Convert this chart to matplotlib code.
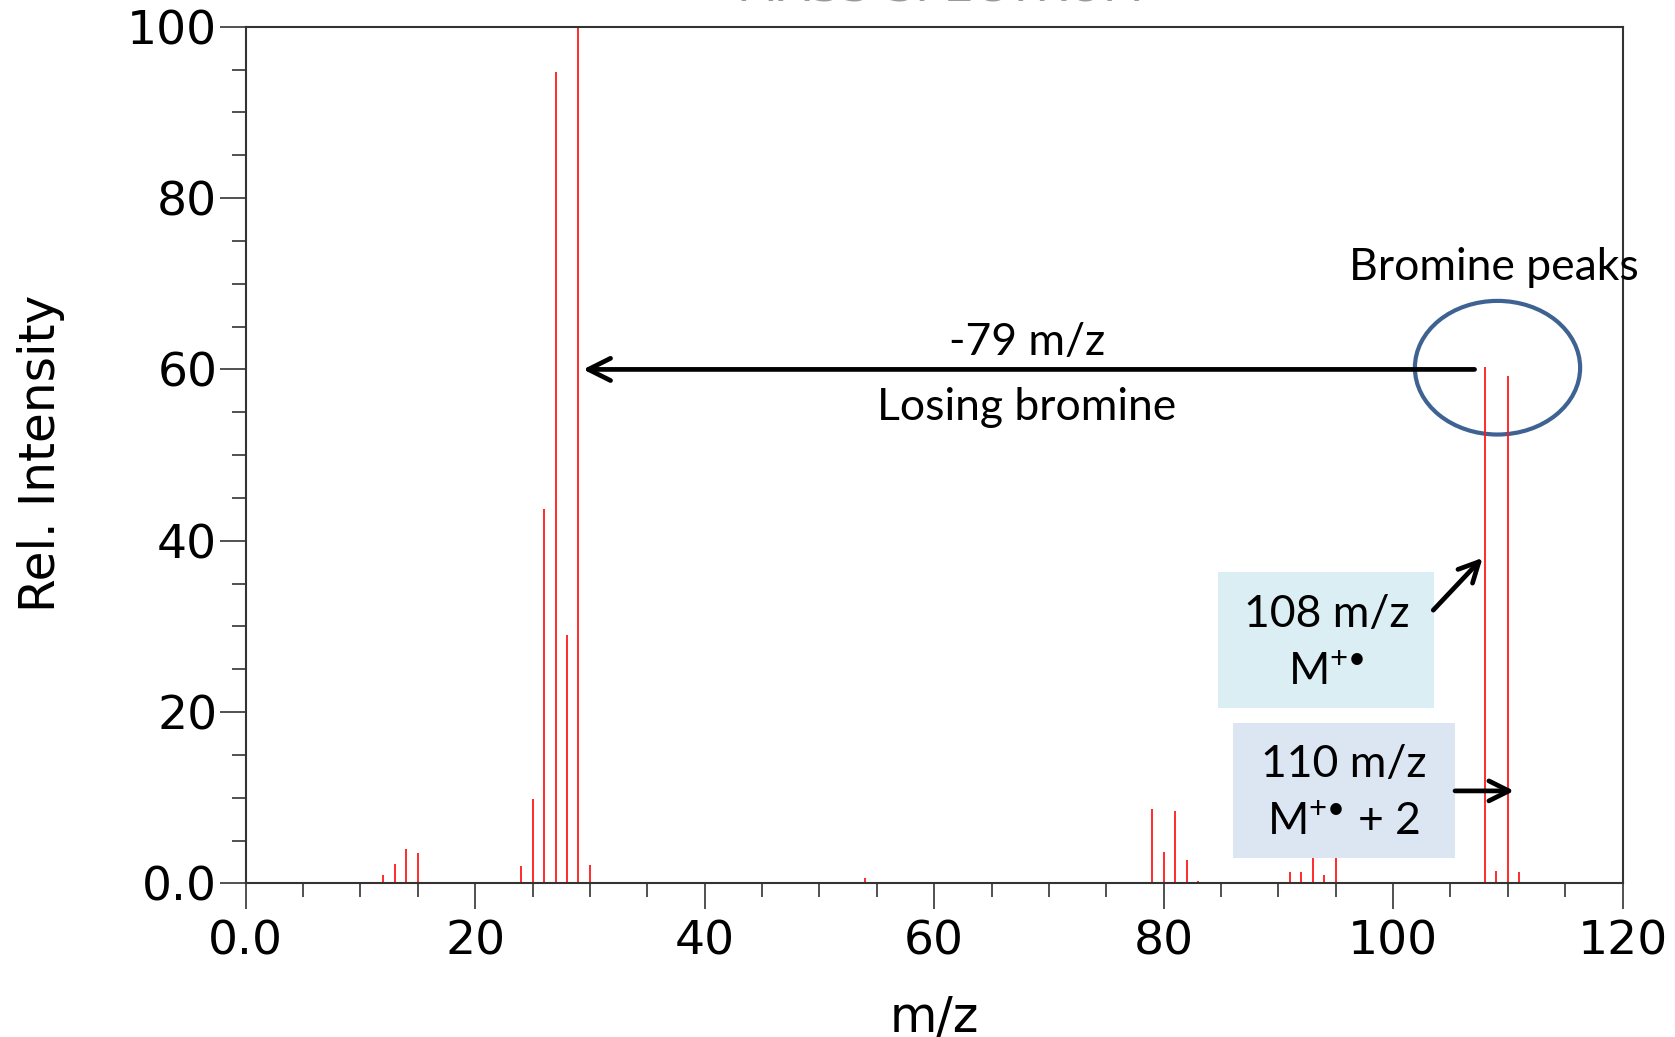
import matplotlib
matplotlib.use("Agg")
import matplotlib.pyplot as plt
from matplotlib.patches import Ellipse, Rectangle
from matplotlib.ticker import MultipleLocator, FixedFormatter, FixedLocator

# peak list (m/z, relative intensity)
mz = [12, 13, 14, 15, 16,
      24, 25, 26, 27, 28, 29, 30, 31,
      54,
      79, 80, 81, 82, 83, 84,
      91, 92, 93, 94, 95,
      108, 109, 110, 111]
intensity = [1.0, 2.3, 4.0, 3.5, 0.2,
             2.0, 9.9, 43.7, 94.7, 29.0, 100.0, 2.2, 0.2,
             0.6,
             8.7, 3.7, 8.5, 2.7, 0.3, 0.1,
             1.3, 1.3, 3.2, 1.0, 3.1,
             60.3, 1.5, 59.2, 1.3]

x_ticks = [0, 20, 40, 60, 80, 100, 120]
x_labels = ["0.0", "20", "40", "60", "80", "100", "120"]
y_ticks = [0, 20, 40, 60, 80, 100]
y_labels = ["0.0", "20", "40", "60", "80", "100"]

plt.rcParams["mathtext.fontset"] = "custom"
plt.rcParams["mathtext.rm"] = "Lato"
plt.rcParams["mathtext.it"] = "Lato:italic"

fig = plt.figure(figsize=(16.75, 10.37), dpi=100)
ax = fig.add_axes([0.1467, 0.1481, 0.822, 0.8261])

ax.vlines(mz, 0, intensity, color="#ff1a1a", lw=1.3)

ax.set_xlim(0, 120)
ax.set_ylim(0, 100)
ax.xaxis.set_major_locator(FixedLocator(x_ticks))
ax.xaxis.set_major_formatter(FixedFormatter(x_labels))
ax.yaxis.set_major_locator(FixedLocator(y_ticks))
ax.yaxis.set_major_formatter(FixedFormatter(y_labels))
ax.xaxis.set_minor_locator(MultipleLocator(5))
ax.yaxis.set_minor_locator(MultipleLocator(5))

ax.tick_params(which="major", direction="out", length=19, width=1.1, color="#222222")
ax.tick_params(which="minor", direction="out", length=10, width=1.1, color="#222222")
ax.tick_params(axis="y", which="major", pad=1.5, labelsize=34)
ax.tick_params(axis="x", which="major", pad=7, labelsize=34)
for s in ax.spines.values():
    s.set_color("#333333")
    s.set_linewidth(1.5)

ax.set_xlabel("m/z", fontsize=35, family="DejaVu Sans")
ax.xaxis.label.set_va("baseline")
ax.xaxis.set_label_coords(0.5, -0.1735)
ax.set_ylabel("Rel. Intensity", fontsize=35, family="DejaVu Sans")
ax.yaxis.label.set_va("center")
ax.yaxis.set_label_coords(-0.1487, 0.502)

# title sits above the top edge, only a sliver shows
fig.text(940 / 1675, 1 - 1.5 / 1037, "MASS SPECTRUM", fontsize=34,
         ha="center", va="baseline", color="#999999")

ann_font = {"family": "Lato", "size": 32, "color": "black"}
arrow_kw = dict(arrowstyle="->", lw=3.4, color="black", shrinkA=0, shrinkB=0)

# losing bromine arrow
ax.annotate("", xy=(29.4, 60), xytext=(107.1, 60),
            arrowprops=dict(mutation_scale=40, **arrow_kw))
ax.text(68.1, 61.7, "-79 m/z", ha="center", va="baseline", **ann_font)
ax.text(68.1, 54.1, "Losing bromine", ha="center", va="baseline", **ann_font)

# bromine peaks circle
ax.add_patch(Ellipse((109.1, 60.2), 14.4, 15.6, fill=False,
                     ec="#3E6291", lw=3.0, clip_on=False))
ax.text(108.8, 70.4, "Bromine peaks", ha="center", va="baseline",
        clip_on=False, **ann_font)

# label boxes
ax.add_patch(Rectangle((84.75, 20.5), 18.85, 15.85, fc="#DAEEF3", ec="none", zorder=3))
ax.text(94.2, 29.9, "108 m/z", ha="center", va="baseline", zorder=4, **ann_font)
ax.text(94.2, 23.2, "M$^{+•}$", ha="center", va="baseline", zorder=4, **ann_font)
ax.annotate("", xy=(107.8, 38.0), xytext=(103.5, 31.9),
            arrowprops=dict(mutation_scale=36, **arrow_kw))

ax.add_patch(Rectangle((86.05, 2.96), 19.35, 15.75, fc="#DCE6F2", ec="none", zorder=3))
ax.text(95.7, 12.4, "110 m/z", ha="center", va="baseline", zorder=4, **ann_font)
ax.text(95.7, 5.65, "M$^{+•}$ + 2", ha="center", va="baseline", zorder=4, **ann_font)
ax.annotate("", xy=(110.55, 10.8), xytext=(105.4, 10.8),
            arrowprops=dict(mutation_scale=36, **arrow_kw))

fig.savefig("out.png", dpi=100)
